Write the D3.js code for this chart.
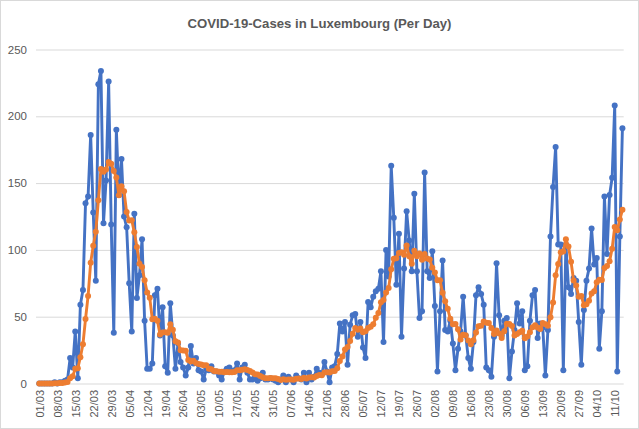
<!DOCTYPE html>
<html>
<head>
<meta charset="utf-8">
<script src="https://cdn.jsdelivr.net/npm/d3@7"></script>
<style>
  html, body { margin: 0; padding: 0; background: #ffffff; }
  svg { display: block; }
</style>
</head>
<body>
<svg id="chart" width="639" height="429"></svg>
<script>
// ---------------- DATA ----------------
const chartTitle = "COVID-19-Cases in Luxembourg (Per Day)";

// first and last day of the series (one category per day)
const firstDay = "2020-03-01";
const lastDay = "2020-10-14";

// tick labels shown on the category axis (every 7th day)
const tickLabels = ["01/03","08/03","15/03","22/03","29/03","05/04","12/04","19/04","26/04",
  "03/05","10/05","17/05","24/05","31/05","07/06","14/06","21/06","28/06","05/07","12/07",
  "19/07","26/07","02/08","09/08","16/08","23/08","30/08","06/09","13/09","20/09","27/09",
  "04/10","11/10"];

const yTicks = [0, 50, 100, 150, 200, 250];

// new cases per day (blue)
const dailyCases = [
  0,0,0,0,0,0,1,0,1,1,2,
  3,19,12,39,4,59,70,135,140,186,
  128,77,224,234,120,152,226,119,38,190,
  141,168,125,117,75,39,127,64,81,108,
  47,11,11,15,66,71,36,57,13,8,
  60,36,11,30,16,12,6,12,28,15,
  19,10,9,3,11,10,13,9,9,6,
  3,9,11,12,9,10,15,3,12,14,
  8,3,3,5,2,4,8,3,3,4,
  3,2,1,3,6,1,5,3,1,6,
  4,3,8,1,8,3,5,11,8,7,
  16,9,1,12,13,22,45,39,46,14,
  44,51,52,35,46,27,19,61,57,65,
  69,71,84,31,100,80,163,124,74,112,
  35,86,129,107,84,142,84,49,54,158,
  84,79,99,58,9,54,92,40,39,47,
  30,10,26,39,65,36,19,11,31,66,
  72,67,59,12,10,5,35,90,51,36,
  47,49,4,24,40,60,45,54,10,13,
  47,66,70,34,45,42,6,40,110,147,
  177,104,104,10,104,72,67,79,77,46,
  14,55,77,86,116,89,94,26,54,140,
  97,141,154,208,9,110,191
];

// 7-day average (orange)
const movingAvg7 = [
  0,0,0,0,0,0,0.14,0.14,0.29,0.43,0.71,
  1.14,3.86,5.43,11.0,11.43,19.71,29.43,48.29,65.57,90.43,
  103.14,113.57,137.14,160.57,158.43,160.14,165.86,164.57,159.0,154.14,
  140.86,147.71,143.86,128.29,122.0,122.14,113.14,102.14,89.71,87.29,
  77.29,68.14,64.14,48.14,48.43,47.0,36.71,38.14,38.43,38.0,
  44.43,40.14,31.57,30.71,24.86,24.71,24.43,17.57,16.43,17.0,
  15.43,14.57,14.14,13.71,13.57,11.0,10.71,9.29,9.14,8.71,
  8.71,8.43,8.57,8.43,8.43,8.57,9.86,9.86,10.29,10.71,
  10.14,9.29,8.29,6.86,6.71,5.57,4.71,4.0,4.0,4.14,
  3.86,3.86,3.43,2.71,3.14,2.86,3.0,3.0,2.86,3.57,
  3.71,3.29,4.29,3.71,4.43,4.71,4.57,5.57,6.29,6.14,
  8.29,8.43,8.14,9.14,9.43,11.43,16.86,20.14,25.43,27.29,
  31.86,37.29,41.57,40.14,41.14,38.43,39.14,41.57,42.43,44.29,
  49.14,52.71,60.86,62.57,68.14,71.43,85.43,93.29,93.71,97.71,
  98.29,96.29,103.29,95.29,89.57,99.29,95.29,97.29,92.71,96.86,
  93.57,92.86,86.71,83.0,77.29,77.29,67.86,61.57,55.86,48.43,
  44.43,44.57,40.57,33.0,36.57,36.14,32.14,29.43,32.43,38.14,
  42.86,43.14,46.43,45.43,45.29,41.57,37.14,39.71,37.43,34.14,
  39.14,44.71,44.57,43.0,35.86,37.14,38.43,39.43,33.86,35.14,
  38.43,42.14,43.57,42.0,40.71,45.29,44.29,43.29,49.57,60.57,
  81.0,89.43,98.29,98.86,108.0,102.57,91.14,77.14,73.29,65.0,
  65.57,58.57,59.29,62.0,67.29,69.0,75.86,77.57,77.43,86.43,
  88.0,91.57,100.86,117.14,114.71,122.71,130.0
];

// ---------------- CHART ----------------
const W = 639, H = 429;
const plot = { left: 38, right: 623.7, top: 49.5, bottom: 383.5 };
const textColor = "#595959";
const gridColor = "#D9D9D9";
const blue = "#4472C4";
const orange = "#ED7D31";
const fmt = d3.timeFormat("%d/%m");
const parse = d3.timeParse("%Y-%m-%d");

const days = d3.timeDay.range(parse(firstDay), d3.timeDay.offset(parse(lastDay), 1));
const categories = days.map(fmt);

const svg = d3.select("#chart");

svg.append("rect")
  .attr("x", 0.5).attr("y", 0.5)
  .attr("width", W - 1).attr("height", H - 1)
  .attr("fill", "#fff").attr("stroke", gridColor).attr("stroke-width", 1);

const x = d3.scalePoint().domain(categories).range([plot.left, plot.right]).padding(0.5);
const y = d3.scaleLinear().domain([0, 250]).range([plot.bottom, plot.top]);

// y axis + gridlines
const yAxis = svg.append("g")
  .attr("transform", `translate(${plot.left - 2},0)`)
  .call(d3.axisLeft(y).tickValues(yTicks).tickSize(-(plot.right - plot.left + 2)).tickPadding(9));
yAxis.select(".domain").remove();
yAxis.selectAll(".tick line").attr("stroke", gridColor).attr("stroke-width", 1);
yAxis.selectAll(".tick text")
  .attr("fill", textColor)
  .style("font-family", "'Liberation Sans', Arial, sans-serif")
  .style("font-size", "11.5px");

// x axis
const xAxis = svg.append("g")
  .attr("transform", `translate(0,${plot.bottom})`)
  .call(d3.axisBottom(x).tickValues(tickLabels).tickSize(0));
xAxis.select(".domain").remove();
xAxis.selectAll(".tick text")
  .attr("fill", textColor)
  .style("font-family", "'Liberation Sans', Arial, sans-serif")
  .style("font-size", "11px")
  .attr("text-anchor", "end")
  .attr("transform", "rotate(-90)")
  .attr("x", -6.5)
  .attr("y", 0)
  .attr("dy", "0.35em");

// series
function drawSeries(values, color) {
  const pts = values.map((v, i) => [categories[i], v]);
  const line = d3.line().x(d => x(d[0])).y(d => y(d[1]));
  const g = svg.append("g");
  g.append("path")
    .attr("d", line(pts))
    .attr("fill", "none")
    .attr("stroke", color)
    .attr("stroke-width", 2.9)
    .attr("stroke-linejoin", "round")
    .attr("stroke-linecap", "round");
  g.selectAll("circle").data(pts).join("circle")
    .attr("cx", d => x(d[0]))
    .attr("cy", d => y(d[1]))
    .attr("r", 3)
    .attr("fill", color);
}
drawSeries(dailyCases, blue);
drawSeries(movingAvg7, orange);

// title
const title = svg.append("text")
  .attr("x", W / 2)
  .attr("y", 28)
  .attr("text-anchor", "middle")
  .attr("fill", textColor)
  .style("font-family", "'Liberation Sans', Arial, sans-serif")
  .style("font-weight", "bold")
  .style("font-size", "15px")
  .text(chartTitle);
const tw = title.node().getComputedTextLength();
title.style("font-size", (15 * 264 / tw).toFixed(2) + "px");
</script>
</body>
</html>
